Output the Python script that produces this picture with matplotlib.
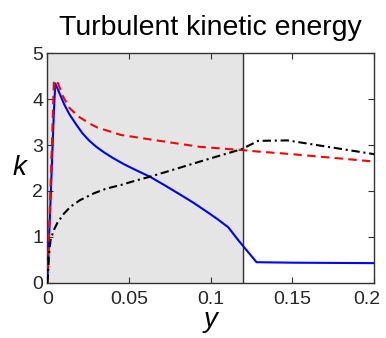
import numpy as np
import matplotlib.pyplot as plt
import matplotlib.transforms as mtransforms

plt.rcParams['font.family'] = ['Liberation Sans', 'DejaVu Sans']

# wall-resolved region boundary
y_layer = 0.12

# solid blue
y_blue = [0, 0.001, 0.002, 0.003, 0.004, 0.0049, 0.0073, 0.0104, 0.0135,
          0.0176, 0.0216, 0.0255, 0.030, 0.0347, 0.040, 0.047, 0.055, 0.0628,
          0.072, 0.0832, 0.090, 0.0975, 0.104, 0.1107, 0.1168, 0.128, 0.150, 0.200]
k_blue = [0, 0.9, 1.8, 2.75, 3.7, 4.34, 4.14, 3.88, 3.67,
          3.45, 3.25, 3.10, 2.96, 2.84, 2.72, 2.58, 2.44, 2.31,
          2.12, 1.88, 1.73, 1.55, 1.39, 1.21, 0.93, 0.45, 0.44, 0.43]

# dashed red
y_red = [0, 0.001, 0.002, 0.003, 0.004, 0.005, 0.0065, 0.0094, 0.0135, 0.0186,
         0.0257, 0.0306, 0.0449, 0.0632, 0.080, 0.0934, 0.1189, 0.128,
         0.150, 0.200]
k_red = [0, 1.0, 2.1, 3.2, 4.36, 4.30, 4.35, 4.07, 3.81, 3.63,
         3.47, 3.38, 3.22, 3.12, 3.03, 2.96, 2.89, 2.86,
         2.80, 2.64]

# dash-dot black
y_black = [0, 0.0004, 0.001, 0.002, 0.004, 0.0061, 0.010, 0.0143, 0.020, 0.0286,
           0.036, 0.045, 0.0535, 0.0628, 0.075, 0.0934, 0.1189, 0.129, 0.147,
           0.200]
k_black = [0, 0.14, 0.60, 0.93, 1.15, 1.30, 1.50, 1.66, 1.80, 1.95,
           2.05, 2.13, 2.22, 2.31, 2.44, 2.64, 2.91, 3.09, 3.10,
           2.80]

fig = plt.figure(figsize=(3.86, 3.38), dpi=100)
ax = fig.add_axes([0.1225, 0.163, 0.847, 0.680])

ax.axvspan(0, y_layer, color='#e5e5e5', zorder=0)
ax.axvline(y_layer, color='#333333', lw=1.0, zorder=1)

ax.plot(y_blue, k_blue, color='blue', lw=1.5, zorder=3)
ax.plot(y_red, k_red, color='red', lw=1.5, ls=(0, (4, 2.6)), zorder=3)
ax.plot(y_black, k_black, color='black', lw=1.5, ls=(0, (4, 1.8, 1, 1.8)), zorder=3)

ax.set_xlim(0, 0.2)
ax.set_ylim(0, 5)
ax.set_xticks([0, 0.05, 0.1, 0.15, 0.2])
ax.set_xticklabels(['0', '0.05', '0.1', '0.15', '0.2'])
ax.set_yticks([0, 1, 2, 3, 4, 5])
ax.tick_params(direction='in', top=True, right=True, labelsize=14, length=4,
               color='#333333', labelcolor='#262626')
ax.tick_params(axis='x', pad=6)
ax.tick_params(axis='y', pad=3)
for s in ax.spines.values():
    s.set_color('#333333')
    s.set_linewidth(1.0)

# keep the last x tick label inside the figure
last = ax.get_xticklabels()[-1]
last.set_transform(last.get_transform() +
                   mtransforms.ScaledTranslation(-5 / 72, 0, fig.dpi_scale_trans))

ax.set_xlabel('y', fontsize=20, style='italic', labelpad=-1)
ax.set_ylabel('k', fontsize=20, style='italic', rotation=0, va='center')
ax.yaxis.set_label_coords(-0.085, 0.5)
ax.set_title('Turbulent kinetic energy', fontsize=20.5, pad=13)

fig.savefig('out.png', dpi=100)
